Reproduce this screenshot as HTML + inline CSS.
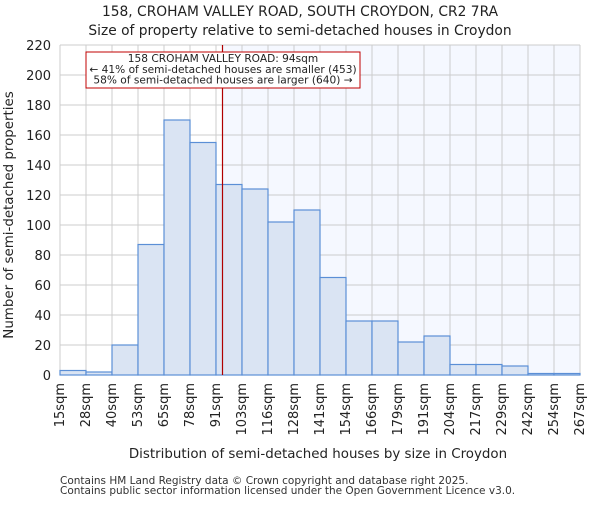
<!DOCTYPE html>
<html><head><meta charset="utf-8"><style>
body{margin:0;background:#fff;font-family:"Liberation Sans","DejaVu Sans",sans-serif}
</style></head><body>
<svg width="600" height="500" xmlns="http://www.w3.org/2000/svg" font-family="DejaVu Sans, Liberation Sans, sans-serif">
<g id="g"></g>
</svg>
<script>
const binLabels=["15sqm","28sqm","40sqm","53sqm","65sqm","78sqm","91sqm","103sqm","116sqm","128sqm","141sqm","154sqm","166sqm","179sqm","191sqm","204sqm","217sqm","229sqm","242sqm","254sqm","267sqm"];
const binEdges=[15,28,40,53,65,78,91,103,116,128,141,154,166,179,191,204,217,229,242,254,267];
const counts=[3,2,20,87,170,155,127,124,102,110,65,36,36,22,26,7,7,6,1,1];
const yTicks=[0,20,40,60,80,100,120,140,160,180,200,220];
const markerValue=94;
const NS="http://www.w3.org/2000/svg";
const g=document.getElementById('g');
const L=60,R=580,T=45,B=375,yMax=220;
const n=counts.length,bw=(R-L)/n;
const xi=i=>L+i*bw;
const xv=v=>{let i=0;while(i<binEdges.length-2&&v>binEdges[i+1])i++;return xi(i)+(v-binEdges[i])/(binEdges[i+1]-binEdges[i])*bw;};
const y=v=>B-(v/yMax)*(B-T);
function el(t,a,txt){const e=document.createElementNS(NS,t);for(const k in a)e.setAttribute(k,a[k]);if(txt!==undefined)e.textContent=txt;g.appendChild(e);return e;}
const mx=xv(markerValue);
let e=el('rect',{x:L,y:T,width:R-L,height:B-T,fill:'#fff'});

e=el('rect',{x:mx,y:T,width:R-mx,height:B-T,fill:'#f5f8ff'});

for(let i=0;i<=n;i++){e=el('line',{x1:xi(i),x2:xi(i),y1:T,y2:B,stroke:'#cccccc','stroke-width':1});
}
yTicks.forEach(t=>{e=el('line',{x1:L,x2:R,y1:y(t),y2:y(t),stroke:'#cccccc','stroke-width':1});

e=el('text',{x:L-9,y:y(t)+5,'text-anchor':'end','font-size':13,fill:'#222'},t);
});
counts.forEach((c,i)=>{e=el('rect',{x:xi(i),y:y(c),width:bw,height:B-y(c),fill:'#dae4f3',stroke:'#5b8fd6','stroke-width':1.2});
});
binLabels.forEach((l,i)=>{const x=xi(i)+4;e=el('text',{x:x,y:B+8,'text-anchor':'end','font-size':13,fill:'#222',transform:`rotate(-90 ${x} ${B+8})`},l);
});
e=el('line',{x1:mx,x2:mx,y1:T,y2:B,stroke:'#b00000','stroke-width':1.2});

e=el('rect',{x:86,y:52,width:274,height:36,fill:'#fff',stroke:'#c00000','stroke-width':1});

[["158 CROHAM VALLEY ROAD: 94sqm",62],["← 41% of semi-detached houses are smaller (453)",73],["58% of semi-detached houses are larger (640) →",83.5]].forEach(([t,yy])=>{
e=el('text',{x:223,y:yy,'text-anchor':'middle','font-size':10.6,fill:'#222'},t);
});
e=el('text',{x:300,y:16,'text-anchor':'middle','font-size':13.8,fill:'#222'},"158, CROHAM VALLEY ROAD, SOUTH CROYDON, CR2 7RA");

e=el('text',{x:300,y:35,'text-anchor':'middle','font-size':13.8,fill:'#222'},"Size of property relative to semi-detached houses in Croydon");

e=el('text',{x:318,y:458,'text-anchor':'middle','font-size':13.4,fill:'#222'},"Distribution of semi-detached houses by size in Croydon");

e=el('text',{x:13,y:215,'text-anchor':'middle','font-size':13.4,fill:'#222',transform:'rotate(-90 13 215)'},"Number of semi-detached properties");

e=el('text',{x:60,y:484,'font-size':10.5,fill:'#333'},"Contains HM Land Registry data © Crown copyright and database right 2025.");

e=el('text',{x:60,y:494,'font-size':10.5,fill:'#333'},"Contains public sector information licensed under the Open Government Licence v3.0.");

</script>
</body></html>
